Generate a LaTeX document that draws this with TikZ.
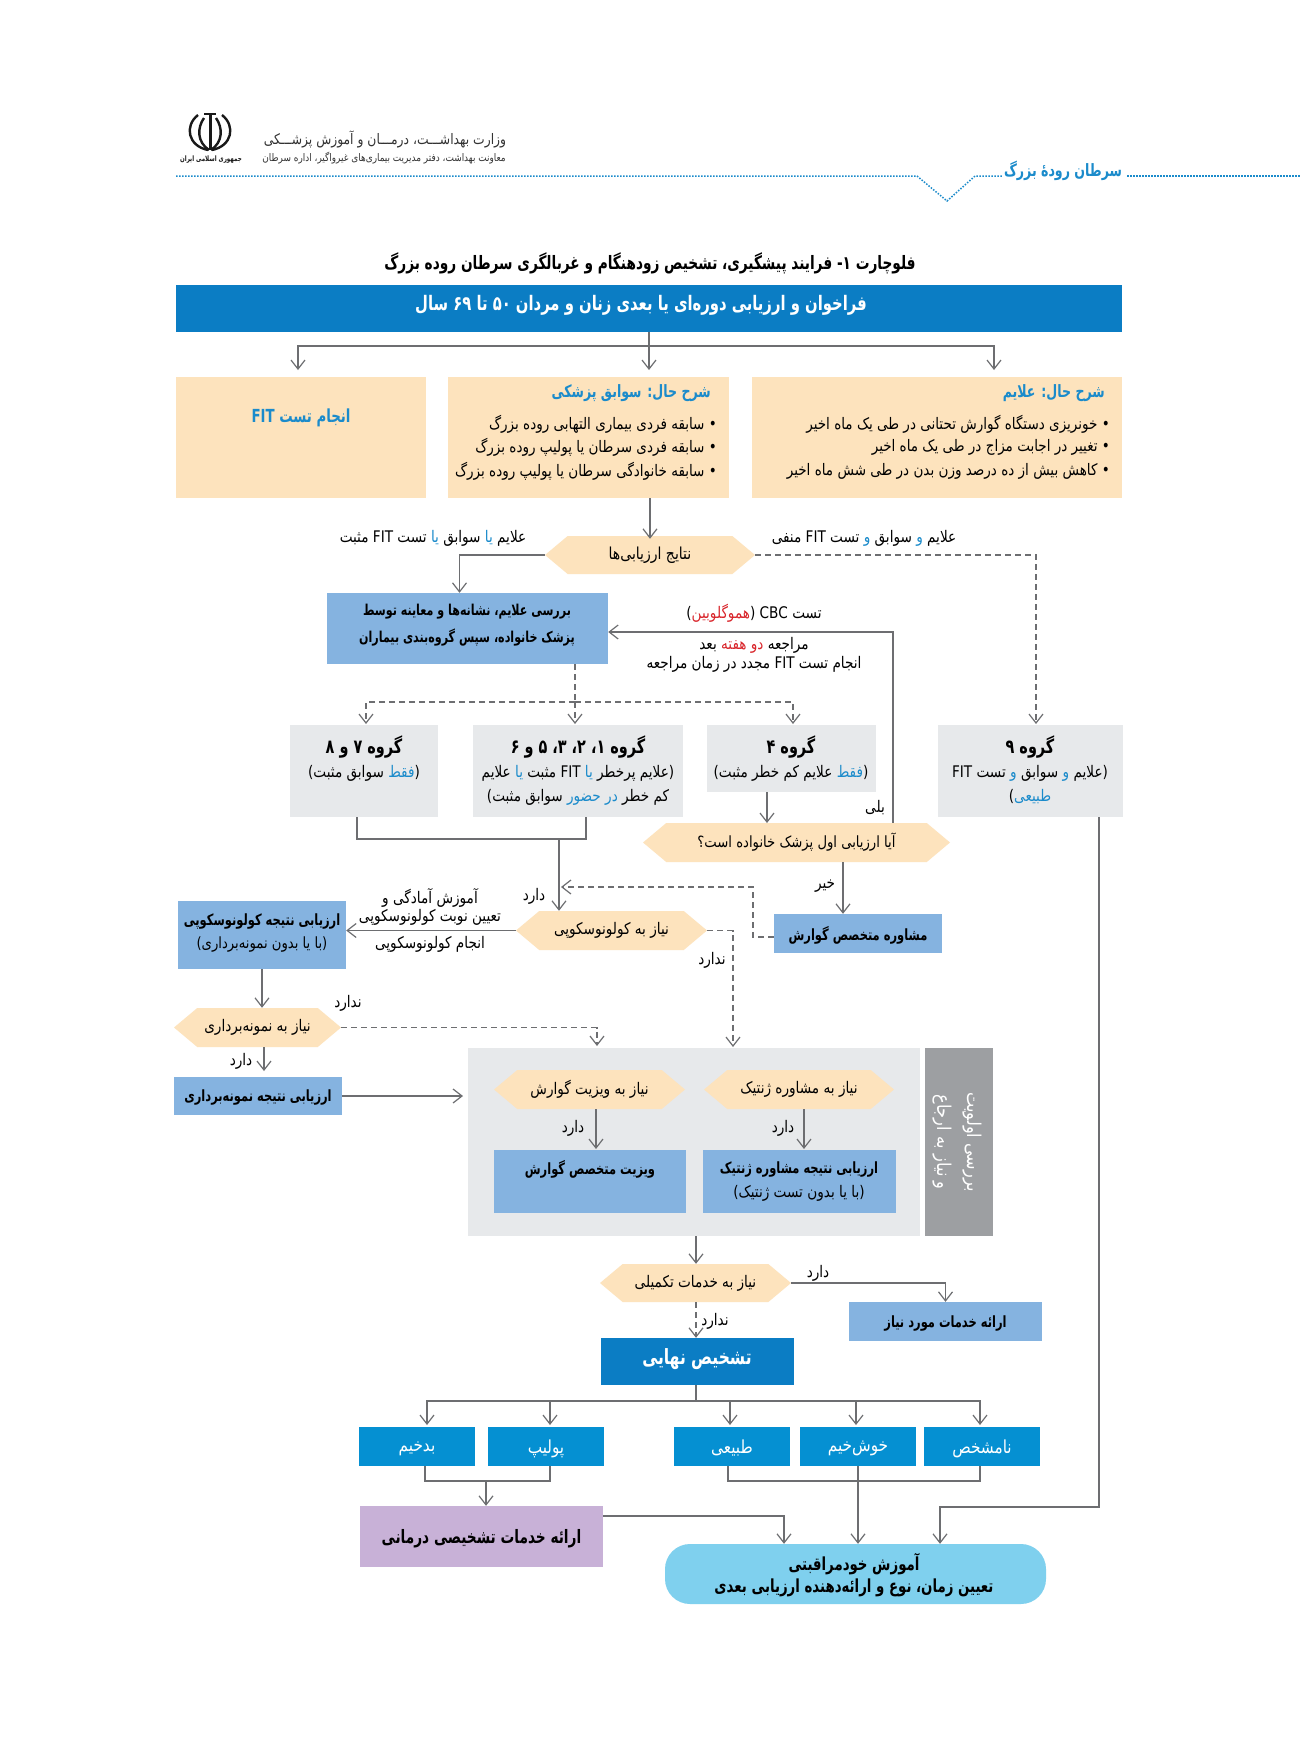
\documentclass[tikz,border=0pt]{standalone}
\usepackage{fontspec}
\usetikzlibrary{arrows.meta,shapes.symbols,positioning}
\TeXXeTstate=1
\newfontfamily\arabicfont[Script=Arabic,FakeStretch=0.85,BoldFeatures={FakeStretch=0.74}]{DejaVu Sans}
\newcommand{\fa}[1]{{\arabicfont\beginR #1\endR}}
\newcommand{\la}[1]{\beginL #1\endL{}}
% coloured single word: an L run inside the R run keeps the colour specials in order
\newcommand{\cw}[2]{\beginL{\color{#1}#2}\endL{}}
\newcommand{\ft}[1]{\fontsize{#1}{#1}\selectfont}
\definecolor{barblue}{HTML}{0B7DC4}
\definecolor{cream}{HTML}{FDE3BD}
\definecolor{softblue}{HTML}{85B3E0}
\definecolor{panelgray}{HTML}{E7E9EB}
\definecolor{sidegray}{HTML}{9D9FA2}
\definecolor{brightblue}{HTML}{0590D2}
\definecolor{softpurple}{HTML}{C8B1D7}
\definecolor{softcyan}{HTML}{7FD0EE}
\definecolor{linegray}{HTML}{6D6E71}
\definecolor{headblue}{HTML}{1B8BCB}
\definecolor{alertred}{HTML}{D9262C}
\tikzset{
  flow/.style={draw=linegray,line width=1.5pt,-{Straight Barb[length=9pt,width=14pt,line width=1.2pt]}},
  plain/.style={draw=linegray,line width=1.5pt},
  flowd/.style={flow,dash pattern=on 6pt off 4pt},
  plaind/.style={plain,dash pattern=on 6pt off 4pt},
  cell/.style={inner sep=0pt,align=center,text depth=0pt},
  hexbox/.style={signal,signal to=west and east,fill=cream,inner sep=0pt,align=center,signal pointer angle=80},
  tag/.style={inner sep=0pt,align=center},
}
\begin{document}
\begin{tikzpicture}[x=1pt,y=-1pt]
  \useasboundingbox (0,0) rectangle (1300,1741);
  \fill[white] (0,0) rectangle (1300,1741);

  % Header
  \draw[headblue,line width=1.5pt,dash pattern=on 1.5pt off 1.5pt] (176,176) -- (917,176) -- (947,201) -- (975,176) -- (1003,176);
  \draw[headblue,line width=1.5pt,dash pattern=on 1.5pt off 1.5pt] (1127,176) -- (1300,176);
  \node[tag,text=headblue] (chapter) at (1063,171) {\ft{17}\bfseries\fa{سرطان رودهٔ بزرگ}};
  \node[tag,text=black!80] (ministry) at (385,139) {\ft{14.5}\fa{وزارت بهداشـــت، درمـــان و آموزش پزشـــکی}};
  \node[tag,text=black!80] (office) at (384,158) {\ft{10.5}\fa{معاونت بهداشت، دفتر مدیریت بیماری‌های غیرواگیر، اداره سرطان}};
  % Emblem
  \begin{scope}[black!90,line width=2.4pt]
    \draw[line width=3pt] (210,113) -- (210,150);
    \draw (204,118) .. controls (197,128) and (197,142) .. (209,150);
    \draw (216,118) .. controls (223,128) and (223,142) .. (211,150);
    \draw (198,115) .. controls (184,126) and (188,146) .. (208,150);
    \draw (222,115) .. controls (236,126) and (232,146) .. (212,150);
    \draw[line width=1.5pt] (204,114) -- (216,114);
  \end{scope}
  \node[tag,text=black!90] (republic) at (211,160) {\ft{7.5}\bfseries\fa{جمهوری اسلامی ایران}};

  % Top of the chart
  \node[tag] (title) at (650,263) {\ft{18.5}\bfseries\fa{فلوچارت ۱- فرایند پیشگیری، تشخیص زودهنگام و غربالگری سرطان روده بزرگ}};
  \node[cell,fill=barblue,minimum width=946,minimum height=47] (recall) at (649,308) {};
  \node[tag,text=white] (recalltext) at (641,305) {\ft{20}\bfseries\fa{فراخوان و ارزیابی دوره‌ای یا بعدی زنان و مردان ۵۰ تا ۶۹ سال}};

  \node[cell,fill=cream,minimum width=250,minimum height=121] (fit) at (301,437.5) {};
  \node[cell,fill=cream,minimum width=281,minimum height=121] (history) at (588.5,437.5) {};
  \node[cell,fill=cream,minimum width=370,minimum height=121] (symptoms) at (937,437.5) {};
  \node[tag,text=headblue] (fittext) at (301,418) {\ft{18}\bfseries\fa{انجام تست \la{FIT}}};
  \node[tag,text=headblue,anchor=east] (historyhead) at (711,393) {\ft{17}\bfseries\fa{شرح حال: سوابق پزشکی}};
  \node[tag,anchor=east] (hista) at (717,424) {\ft{15.9}\fa{• سابقه فردی بیماری التهابی روده بزرگ}};
  \node[tag,anchor=east] (histb) at (717,447) {\ft{15.9}\fa{• سابقه فردی سرطان یا پولیپ روده بزرگ}};
  \node[tag,anchor=east] (histc) at (717,471) {\ft{15.9}\fa{• سابقه خانوادگی سرطان یا پولیپ روده بزرگ}};
  \node[tag,text=headblue,anchor=east] (symphead) at (1105,393) {\ft{17}\bfseries\fa{شرح حال: علایم}};
  \node[tag,anchor=east] (sympa) at (1110,424) {\ft{15.9}\fa{• خونریزی دستگاه گوارش تحتانی در طی یک ماه اخیر}};
  \node[tag,anchor=east] (sympb) at (1110,447) {\ft{15.9}\fa{• تغییر در اجابت مزاج در طی یک ماه اخیر}};
  \node[tag,anchor=east] (sympc) at (1110,471) {\ft{15.9}\fa{• کاهش بیش از ده درصد وزن بدن در طی شش ماه اخیر}};

  \coordinate (split) at (649,346);
  \draw[plain] (recall.south) -- (split);
  \draw[flow] (split) -- (649,370);
  \draw[flow] (split) -| (298,370);
  \draw[flow] (split) -| (994,370);

  % Assessment results
  \node[hexbox,minimum width=210,minimum height=38] (results) at (650,555) {\ft{16.5}\fa{نتایج ارزیابی‌ها}};
  \draw[flow] (history.south -| results.north) -- ([yshift=-3]results.north);
  \node[tag] (posnote) at (433,538) {\ft{16}\fa{علایم \cw{headblue}{یا} سوابق \cw{headblue}{یا} تست \la{FIT} مثبت}};
  \node[tag] (negnote) at (864,538) {\ft{16}\fa{علایم \cw{headblue}{و} سوابق \cw{headblue}{و} تست \la{FIT} منفی}};

  \node[cell,fill=softblue,minimum width=281,minimum height=71] (review) at (467.5,628.5) {};
  \node[tag] (reviewtext) at (467,625) {\ft{15}\bfseries\fa{بررسی علایم، نشانه‌ها و معاینه توسط}\\[8pt]\ft{15}\bfseries\fa{پزشک خانواده، سپس گروه‌بندی بیماران}};
  \draw[flow] (results.west) -| ([xshift=-8]review.north);
  \node[tag] (cbcnote) at (754,613) {\ft{16}\fa{تست \la{CBC} (\cw{alertred}{هموگلوبین})}};
  \node[tag] (backnote) at (754,645) {\ft{16}\fa{مراجعه \cw{alertred}{دو} \cw{alertred}{هفته} بعد}};
  \node[tag] (backnoteb) at (754,664) {\ft{16}\fa{انجام تست \la{FIT} مجدد در زمان مراجعه}};

  % Groups
  \node[cell,fill=panelgray,minimum width=148,minimum height=92] (groupc) at (364,771) {};
  \node[cell,fill=panelgray,minimum width=210,minimum height=92] (groupa) at (578,771) {};
  \node[cell,fill=panelgray,minimum width=169,minimum height=67] (groupb) at (791.5,758.5) {};
  \node[cell,fill=panelgray,minimum width=185,minimum height=92] (groupd) at (1030.5,771) {};
  \node[tag] (groupchead) at (364,747) {\ft{19.5}\bfseries\fa{گروه ۷ و ۸}};
  \node[tag] (groupctext) at (364,773) {\ft{16}\fa{(\cw{headblue}{فقط} سوابق مثبت)}};
  \node[tag] (groupahead) at (578,747) {\ft{19.5}\bfseries\fa{گروه ۱، ۲، ۳، ۵ و ۶}};
  \node[tag] (groupatext) at (578,773) {\ft{16}\fa{(علایم پرخطر \cw{headblue}{یا} \la{FIT} مثبت \cw{headblue}{یا} علایم}};
  \node[tag] (groupatextb) at (578,797) {\ft{16}\fa{کم خطر \cw{headblue}{در} \cw{headblue}{حضور} سوابق مثبت)}};
  \node[tag] (groupbhead) at (791,747) {\ft{19.5}\bfseries\fa{گروه ۴}};
  \node[tag] (groupbtext) at (791,773) {\ft{16}\fa{(\cw{headblue}{فقط} علایم کم خطر مثبت)}};
  \node[tag] (groupdhead) at (1030,747) {\ft{19.5}\bfseries\fa{گروه ۹}};
  \node[tag] (groupdtext) at (1030,773) {\ft{16}\fa{(علایم \cw{headblue}{و} سوابق \cw{headblue}{و} تست \la{FIT}}};
  \node[tag] (groupdtextb) at (1030,797) {\ft{16}\fa{\cw{headblue}{طبیعی})}};

  \coordinate (dashsplit) at (575,702);
  \draw[plaind] (review.south -| dashsplit) -- (dashsplit);
  \draw[flowd] (dashsplit) -- (575,724);
  \draw[flowd] (dashsplit) -| (366,724);
  \draw[flowd] (dashsplit) -| (793,724);
  \draw[flowd] (results.east) -| (1036,724);

  % Referral question
  \node[hexbox,minimum width=307,minimum height=39,signal pointer angle=80] (first) at (796.5,842.5) {\ft{15.5}\fa{آیا ارزیابی اول پزشک خانواده است؟}};
  \draw[flow] (groupb.south -| 767,0) -- (767,823);
  \draw[flow] ([xshift=96.5]first.north) |- (review.east |- 0,632);
  \node[tag] (yesnote) at (875,808) {\ft{16}\fa{بلی}};
  \node[cell,fill=softblue,minimum width=168,minimum height=39] (gastro) at (858,933.5) {\ft{15.5}\bfseries\fa{مشاوره متخصص گوارش}};
  \draw[flow] ([xshift=46.5]first.south) -- ([xshift=-15]gastro.north);
  \node[tag] (nonote) at (825,886) {\ft{16}\fa{خیر}};

  % Colonoscopy
  \node[hexbox,minimum width=191,minimum height=39] (colon) at (611.5,930.5) {\ft{16}\fa{نیاز به کولونوسکوپی}};
  \coordinate (groupjoin) at (559,839);
  \draw[plain] (groupc.south -| 357,0) |- (groupjoin) -| (groupa.south -| 586,0);
  \draw[flow] (groupjoin) -- (colon.north -| groupjoin);
  \draw[flowd] (gastro.west |- 0,937) -| (753,887) -- (561,887);
  \node[tag] (hasnote) at (534,896) {\ft{16}\fa{دارد}};
  \node[cell,fill=softblue,minimum width=168,minimum height=68] (colresult) at (262,935) {};
  \node[tag] (colresulttext) at (262,921) {\ft{15.5}\bfseries\fa{ارزیابی نتیجه کولونوسکوپی}};
  \node[tag] (colresulttextb) at (262,944) {\ft{15.5}\fa{(با یا بدون نمونه‌برداری)}};
  \draw[flow] (colon.west) -- (colresult.east |- colon.west);
  \node[tag] (prepnote) at (430,898) {\ft{16}\fa{آموزش آمادگی و}};
  \node[tag] (prepnoteb) at (430,917) {\ft{16}\fa{تعیین نوبت کولونوسکوپی}};
  \node[tag] (prepnotec) at (430,944) {\ft{16}\fa{انجام کولونوسکوپی}};

  % Biopsy
  \node[hexbox,minimum width=167,minimum height=39] (biopsy) at (257.5,1027.5) {\ft{16}\fa{نیاز به نمونه‌برداری}};
  \draw[flow] (colresult.south) -- (colresult.south |- biopsy.north);
  \node[tag] (nobiopsy) at (348,1003) {\ft{16}\fa{ندارد}};
  \node[cell,fill=softblue,minimum width=168,minimum height=38] (bioresult) at (258,1096) {\ft{15.5}\bfseries\fa{ارزیابی نتیجه نمونه‌برداری}};
  \coordinate (bioentry) at (264,1071);
  \draw[flow] (biopsy.south -| bioentry) -- (bioentry);
  \node[tag] (hasbiopsy) at (241,1061) {\ft{16}\fa{دارد}};

  % Referral panel
  \node[cell,fill=panelgray,minimum width=452,minimum height=188] (panel) at (694,1142) {};
  \node[cell,fill=sidegray,minimum width=68,minimum height=188] (side) at (959,1142) {};
  \node[tag,text=white,rotate=-90] (sidetext) at (957,1142) {\ft{19}\fa{بررسی اولویت}\\[10pt]\ft{19}\fa{و نیاز به ارجاع}};
  \node[hexbox,minimum width=191,minimum height=39] (visit) at (589.5,1089.5) {\ft{16}\fa{نیاز به ویزیت گوارش}};
  \node[hexbox,minimum width=190,minimum height=39] (genetic) at (799,1089.5) {\ft{16}\fa{نیاز به مشاوره ژنتیک}};
  \node[cell,fill=softblue,minimum width=192,minimum height=63] (visitbox) at (590,1181.5) {};
  \node[tag] (visittext) at (590,1169) {\ft{15.5}\bfseries\fa{ویزیت متخصص گوارش}};
  \node[cell,fill=softblue,minimum width=193,minimum height=63] (genbox) at (799.5,1181.5) {};
  \node[tag] (gentext) at (799,1169) {\ft{15.5}\bfseries\fa{ارزیابی نتیجه مشاوره ژنتیک}};
  \node[tag] (gentextb) at (799,1193) {\ft{16}\fa{(با یا بدون تست ژنتیک)}};
  \coordinate (visitentry) at (596,1149);
  \coordinate (genentry) at (804,1149);
  \draw[flow] (visit.south -| visitentry) -- (visitentry);
  \draw[flow] (genetic.south -| genentry) -- (genentry);
  \node[tag] (hasvisit) at (573,1128) {\ft{16}\fa{دارد}};
  \node[tag] (hasgen) at (783,1128) {\ft{16}\fa{دارد}};
  \draw[flow] (bioresult.east) -- (463,1096);
  \draw[flowd] (biopsy.east) -| (597,1046);
  \draw[flowd] (colon.east) -| (733,1047);
  \node[tag] (nocolon) at (712,960) {\ft{16}\fa{ندارد}};

  % Extra services
  \node[hexbox,minimum width=191,minimum height=38] (extra) at (695.5,1283) {\ft{16}\fa{نیاز به خدمات تکمیلی}};
  \draw[flow] (panel.south -| 696,0) -- (extra.north -| 696,0);
  \node[cell,fill=softblue,minimum width=193,minimum height=39] (services) at (945.5,1321.5) {\ft{15.5}\bfseries\fa{ارائه خدمات مورد نیاز}};
  \draw[flow] (extra.east) -| (services.north);
  \node[tag] (hasextra) at (818,1273) {\ft{16}\fa{دارد}};
  \node[cell,fill=barblue,minimum width=193,minimum height=47] (final) at (697.5,1361.5) {};
  \node[tag,text=white] (finaltext) at (697,1359) {\ft{21}\bfseries\fa{تشخیص نهایی}};
  \draw[flowd] (extra.south -| 696,0) -- (final.north -| 696,0);
  \node[tag] (noextra) at (715,1321) {\ft{16}\fa{ندارد}};

  % Final diagnosis
  \foreach \name/\cx/\lab in {malig/417/بدخیم,polyp/546/پولیپ,normal/732/طبیعی,benign/858/خوش‌خیم,unknown/982/نامشخص}
    \node[cell,fill=brightblue,text=white,minimum width=116,minimum height=39] (\name) at (\cx,1446.5) {\ft{18}\fa{\lab}};
  \coordinate (outcome) at (696,1401);
  \draw[plain] (final.south -| outcome) -- (outcome);
  \foreach \tx in {427,550,730,856,980}
    \draw[flow] (outcome) -| (\tx,1425);

  \node[cell,fill=softpurple,minimum width=243,minimum height=61] (treat) at (481.5,1536.5) {\ft{18.5}\bfseries\fa{ارائه خدمات تشخیصی درمانی}};
  \node[cell,fill=softcyan,rounded corners=25pt,minimum width=381,minimum height=60] (care) at (855.5,1574) {};
  \node[tag] (caretext) at (854,1564) {\ft{18}\bfseries\fa{آموزش خودمراقبتی}};
  \node[tag] (caretextb) at (854,1588) {\ft{18}\bfseries\fa{تعیین زمان، نوع و ارائه‌دهنده ارزیابی بعدی}};

  \coordinate (badjoin) at (486,1481);
  \draw[plain] (malig.south -| 425,0) |- (badjoin) -| (polyp.south -| 550,0);
  \draw[flow] (badjoin) -- (treat.north -| badjoin);
  \draw[plain] (normal.south -| 728,0) |- (benign.south |- badjoin) -| (unknown.south -| 980,0);
  \draw[flow] (benign.south) -- (care.north -| benign.south);
  \draw[flow] (treat.east |- 0,1516) -| (care.north -| 784,0);
  \draw[flow] (groupd.south -| 1099,0) |- (940,1507) -- (care.north -| 940,0);
\end{tikzpicture}
\end{document}
